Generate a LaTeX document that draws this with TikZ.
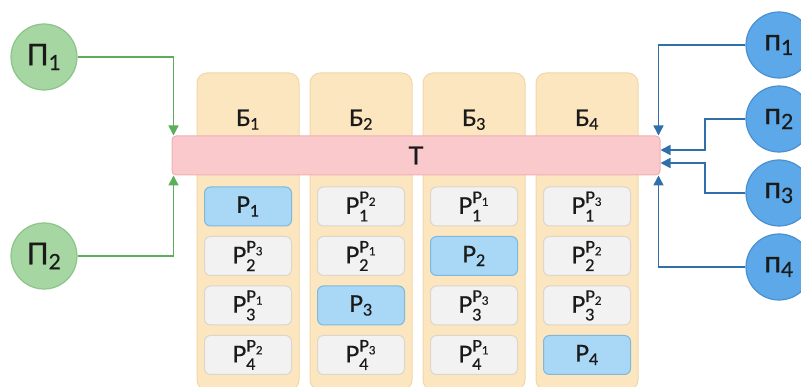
\RequirePackage{fix-cm}
\documentclass[tikz,border=0pt]{standalone}
\usepackage{fontspec}
\setmainfont{Lato}[FakeBold=0.6]
\usepackage{amsmath}
\usetikzlibrary{arrows.meta}
\definecolor{greenfill}{HTML}{A6D6A1}
\definecolor{greenedge}{HTML}{8CC48A}
\definecolor{greenline}{HTML}{5BAF5B}
\definecolor{bluefill}{HTML}{5CA8E8}
\definecolor{blueedge}{HTML}{4A90D0}
\definecolor{blueline}{HTML}{2F6FAA}
\definecolor{colfill}{HTML}{FCE6C0}
\definecolor{coledge}{HTML}{F1D7A8}
\definecolor{barfill}{HTML}{F9C9CC}
\definecolor{baredge}{HTML}{EFB0B5}
\definecolor{cellfill}{HTML}{F2F2F2}
\definecolor{celledge}{HTML}{DCD6CB}
\definecolor{hlfill}{HTML}{A8D8F6}
\definecolor{hledge}{HTML}{80B8DC}
\definecolor{ink}{HTML}{1A1A1A}
\tikzset{
  every node/.style={text=ink},
  leftproc/.style={circle, draw=greenedge, fill=greenfill, line width=1.2pt,
    minimum size=66pt, inner sep=0pt, font=\fontsize{30}{32}\selectfont},
  rightproc/.style={circle, draw=blueedge, fill=bluefill, line width=1.2pt,
    minimum size=66pt, inner sep=0pt, font=\fontsize{30}{32}\selectfont},
  colbox/.style={rectangle, rounded corners=10pt, draw=coledge, fill=colfill,
    line width=1pt, minimum width=102pt, minimum height=317pt},
  barbox/.style={rectangle, rounded corners=4pt, draw=baredge, fill=barfill,
    line width=1pt, minimum width=488pt, minimum height=39pt,
    font=\fontsize{25}{28}\selectfont},
  cell/.style={rectangle, rounded corners=6pt, draw=celledge, fill=cellfill,
    line width=1pt, minimum width=87pt, minimum height=39pt, inner sep=0pt,
    font=\fontsize{23}{25}\selectfont},
  cellhl/.style={cell, draw=hledge, fill=hlfill},
  gline/.style={draw=greenline, line width=1.6pt,
    -{Triangle[length=10pt,width=10pt]}},
  bline/.style={draw=blueline, line width=1.6pt,
    -{Triangle[length=10pt,width=10pt]}},
}

\begin{document}
\begin{tikzpicture}[x=1pt, y=-1pt]
  \useasboundingbox (0,0) rectangle (801,387);

  % columns
  \foreach \i in {1,...,4} {
    \node[colbox] (col\i) at ({135+113*\i}, 231.5) {};
    \node[anchor=base, font=\fontsize{23}{25}\selectfont] (b\i)
      at ({135+113*\i}, 126) {$\text{Б}_{\text{\i}}$};
  }

  \node[barbox] (bar) at (416, 155.5) {Т};

  % cells, 0 = own copy
  \foreach \c/\sa/\sb/\sc/\sd in {1/0/3/1/2, 2/2/1/0/3, 3/1/0/3/1, 4/3/2/2/0} {
    \foreach \r/\s in {1/\sa, 2/\sb, 3/\sc, 4/\sd} {
      \ifnum\s=0
        \node[cellhl] (c\c\r) at ({135+113*\c}, {157+49.5*\r})
          {$\text{Р}_{\text{\r}}$};
      \else
        \node[cell] (c\c\r) at ({135+113*\c}, {157+49.5*\r})
          {$\text{Р}_{\text{\r}}^{\text{Р}_{\text{\s}}}$};
      \fi
    }
  }

  % processes
  \node[leftproc] (lp1) at (44, 57) {$\text{П}_{\text{1}}$};
  \node[leftproc] (lp2) at (44, 256) {$\text{П}_{\text{2}}$};
  \foreach \j/\y in {1/45, 2/119, 3/193, 4/267}
    \node[rightproc] (rp\j) at (779, \y) {$\text{п}_{\text{\j}}$};

  \coordinate (k2) at (705, 150);
  \coordinate (k3) at (705, 163);

  \draw[gline] (lp1) -| ([xshift=2pt]bar.north west);
  \draw[gline] (lp2) -| ([xshift=2pt]bar.south west);
  \draw[bline] (rp1) -| ([xshift=-2pt]bar.north east);
  \draw[bline] (rp2) -| (k2) -- (k2 -| bar.east);
  \draw[bline] (rp3) -| (k3) -- (k3 -| bar.east);
  \draw[bline] (rp4) -| ([xshift=-2pt]bar.south east);
\end{tikzpicture}
\end{document}
